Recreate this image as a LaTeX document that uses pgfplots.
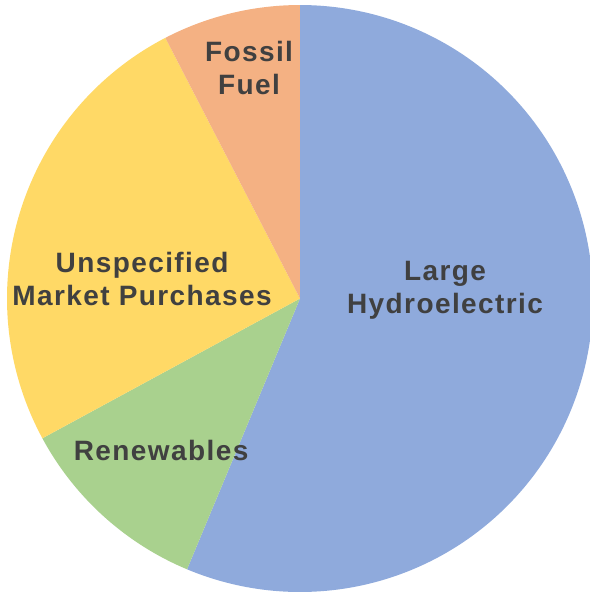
\documentclass[border=0pt]{standalone}
\usepackage{pgfplots}
\pgfplotsset{compat=1.18}
\usepackage{fontspec}
\setmainfont{Liberation Sans}
\newfontfamily\lab[LetterSpace=5]{Liberation Sans}
\definecolor{cHydro}{HTML}{8FAADC}
\definecolor{cRen}{HTML}{A9D18E}
\definecolor{cUns}{HTML}{FFD966}
\definecolor{cFos}{HTML}{F4B183}
\definecolor{txt}{HTML}{404040}
\tikzset{lbl/.style={font=\lab\bfseries\fontsize{28bp}{33bp}\selectfont, text=txt, align=center, inner sep=0pt}}
% shares in percent, clockwise from 12 o'clock
\def\vHydro{56.3}
\def\vRen{10.8}
\def\vUns{25.3}
\def\vFos{7.6}
\begin{document}
\begin{tikzpicture}
\pgfmathsetmacro{\aA}{90}
\pgfmathsetmacro{\aB}{\aA-3.6*\vHydro}
\pgfmathsetmacro{\aC}{\aB-3.6*\vRen}
\pgfmathsetmacro{\aD}{\aC-3.6*\vUns}
\pgfmathsetmacro{\aE}{\aD-3.6*\vFos}
\begin{axis}[
  scale only axis, width=590bp, height=593bp,
  xmin=-1.0239, xmax=0.9898, ymin=-1.0034, ymax=1.0171,
  hide axis, clip=true,
]
\path (rel axis cs:0,0) rectangle (rel axis cs:1,1);
\addplot[fill=cHydro, draw=none, domain=\aB:\aA, samples=200, variable=\t] ({cos(\t)},{sin(\t)}) -- (0,0) -- cycle;
\addplot[fill=cRen, draw=none, domain=\aC:\aB, samples=60, variable=\t] ({cos(\t)},{sin(\t)}) -- (0,0) -- cycle;
\addplot[fill=cUns, draw=none, domain=\aD:\aC, samples=120, variable=\t] ({cos(\t)},{sin(\t)}) -- (0,0) -- cycle;
\addplot[fill=cFos, draw=none, domain=\aE:\aD, samples=50, variable=\t] ({cos(\t)},{sin(\t)}) -- (0,0) -- cycle;
\node[lbl] at (axis cs:0.495,0.029) {Large\\Hydroelectric};
\node[lbl] at (axis cs:-0.474,-0.519) {Renewables};
\node[lbl] at (axis cs:-0.539,0.066) {Unspecified\\Market Purchases};
\node[lbl] at (axis cs:-0.174,0.787) {Fossil\\Fuel};
\end{axis}
\end{tikzpicture}
\end{document}
